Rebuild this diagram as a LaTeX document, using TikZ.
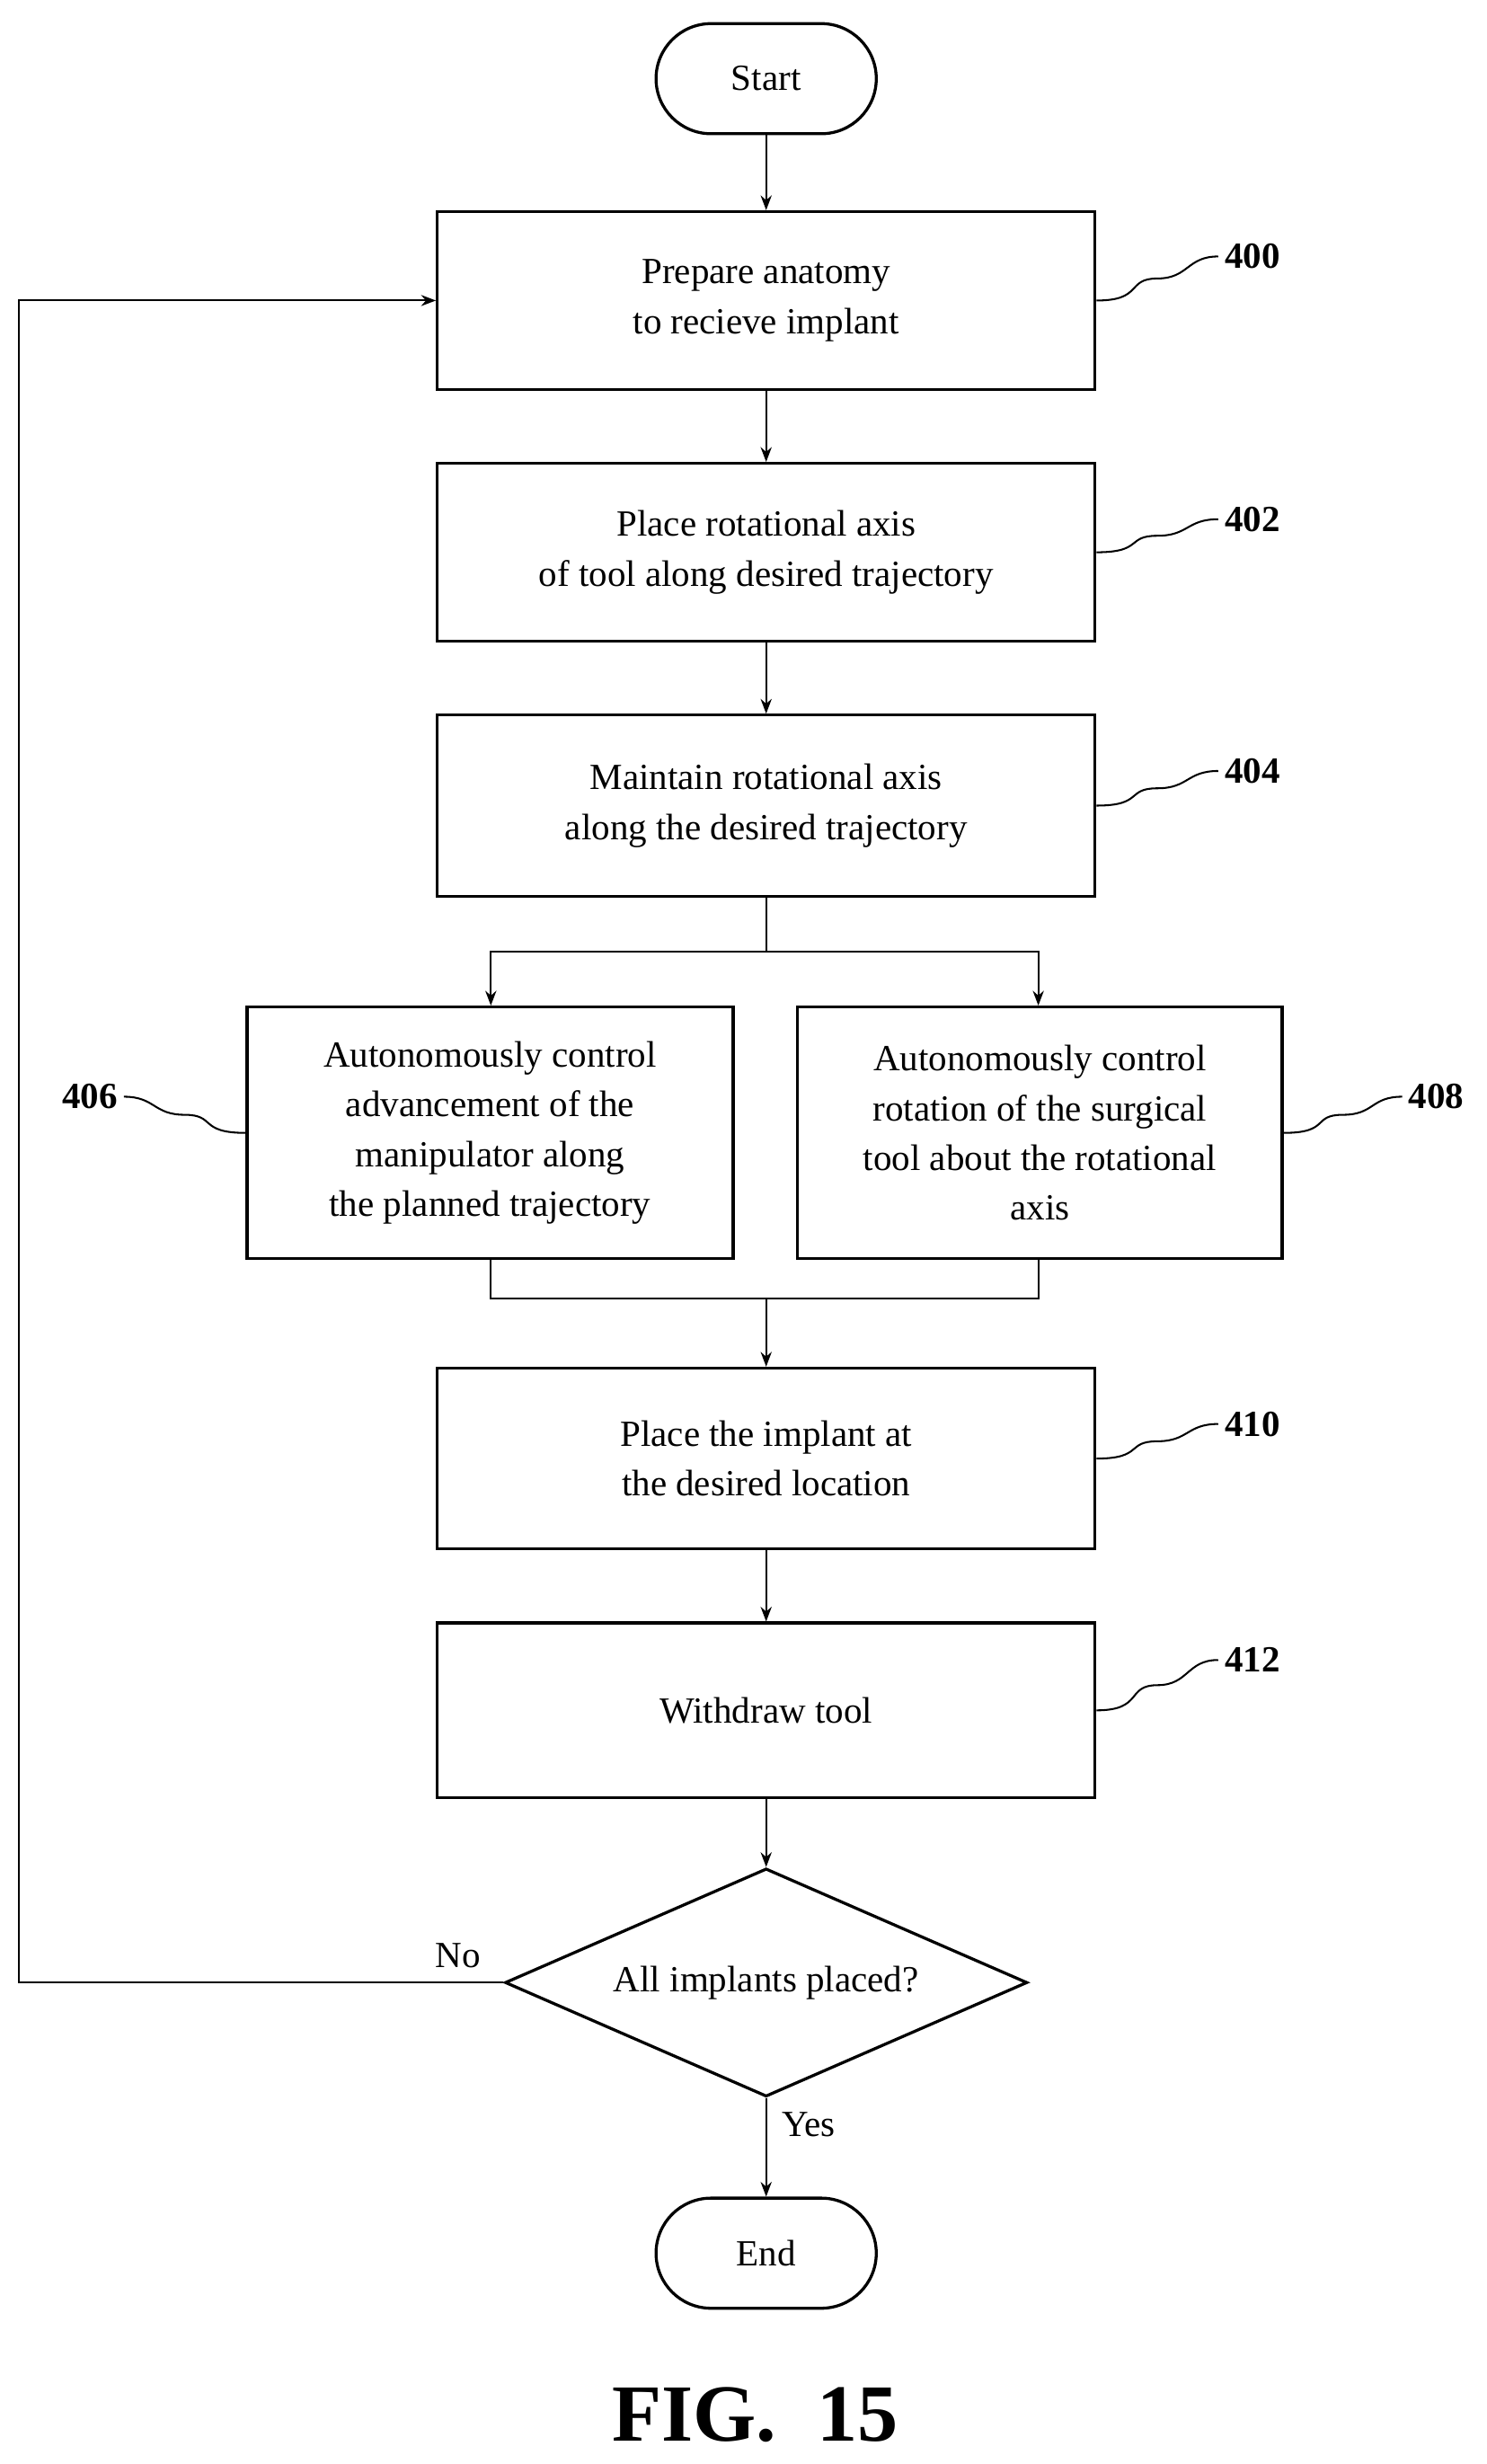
\documentclass[tikz,border=0pt]{standalone}
\usepackage{fontspec}
\setmainfont{Liberation Serif}
\usetikzlibrary{shapes.geometric,arrows.meta,calc}
\begin{document}
\begin{tikzpicture}[x=0.03cm,y=-0.03cm,
  every node/.style={font=\fontsize{20}{27}\selectfont},
  box/.style={draw,line width=1.6pt,rectangle,inner sep=0pt,align=center},
  term/.style={draw,line width=1.6pt,rounded corners=35*0.03cm,minimum width=140*0.03cm,minimum height=70*0.03cm},
  arr/.style={line width=1pt,-{Stealth[length=8pt,width=6pt]}},
  ln/.style={line width=1pt},
  lbl/.style={font=\fontsize{20}{24}\selectfont\bfseries},
  sq/.style={line width=1pt}]
\useasboundingbox (0,0) rectangle (945,1566);
\node[term] (start) at (487,50) {Start};
\node[box,minimum width=418*0.03cm,minimum height=113*0.03cm] (b400) at (487,191) {Prepare anatomy\\to recieve implant};
\node[box,minimum width=418*0.03cm,minimum height=113*0.03cm] (b402) at (487,351) {Place rotational axis\\of tool along desired trajectory};
\node[box,minimum width=418*0.03cm,minimum height=115*0.03cm] (b404) at (487,512) {Maintain rotational axis\\along the desired trajectory};
\node[box,minimum width=309*0.03cm,minimum height=160*0.03cm] (b406) at (311.5,720) {Autonomously control\\advancement of the\\manipulator along\\the planned trajectory};
\node[box,minimum width=308*0.03cm,minimum height=160*0.03cm] (b408) at (661,720) {Autonomously control\\rotation of the surgical\\tool about the rotational\\axis};
\node[box,minimum width=418*0.03cm,minimum height=115*0.03cm] (b410) at (487,927) {Place the implant at\\the desired location};
\node[box,minimum width=418*0.03cm,minimum height=111*0.03cm] (b412) at (487,1087) {Withdraw tool};
\node[draw,line width=1.6pt,diamond,aspect=2.29,minimum width=332*0.03cm,minimum height=145*0.03cm,inner sep=0pt] (dec) at (487,1260) {All implants placed?};
\node[term] (end) at (487,1432) {End};
\coordinate (split) at (487,605);
\coordinate (merge) at (487,825);
\coordinate (loopB) at (12,1260);
\coordinate (loopT) at (12,191);
\draw[arr] (start) -- (b400);
\draw[arr] (b400) -- (b402);
\draw[arr] (b402) -- (b404);
\draw[ln] (b404) -- (split);
\draw[arr] (split) -| (b406.north -| 312,0);
\draw[arr] (split) -| (b408.north -| 660,0);
\draw[ln] (b406.south -| 312,0) |- (merge);
\draw[ln] (b408.south -| 660,0) |- (merge);
\draw[arr] (merge) -- (b410);
\draw[arr] (b410) -- (b412);
\draw[arr] (b412) -- (dec);
\draw[arr] (dec) -- (end);
\draw[arr] (dec.west) -- (loopB) -- (loopT) -- (b400.west);
\node at (291,1243) {No};
\node at (514,1350) {Yes};
\node[lbl] (l400) at (796,163) {400};
\node[lbl] (l402) at (796,330) {402};
\node[lbl] (l404) at (796,490) {404};
\node[lbl] (l406) at (57,697) {406};
\node[lbl] (l408) at (913,697) {408};
\node[lbl] (l410) at (796,905) {410};
\node[lbl] (l412) at (796,1055) {412};
\foreach \b/\l in {b400/l400,b402/l402,b404/l404,b410/l410,b412/l412}{
  \draw[sq] (\b.east) .. controls +(30,0) and +(-20,0) .. ($(\b.east)!0.5!(\l.west)$) .. controls +(20,0) and +(-20,0) .. (\l.west);}
\draw[sq] (b406.west) .. controls +(-30,0) and +(20,0) .. ($(b406.west)!0.5!(l406.east)$) .. controls +(-20,0) and +(20,0) .. (l406.east);
\draw[sq] (b408.east) .. controls +(30,0) and +(-20,0) .. ($(b408.east)!0.5!(l408.west)$) .. controls +(20,0) and +(-20,0) .. (l408.west);
\node[font=\fontsize{44}{50}\selectfont\bfseries] (fig) at (480,1535) {FIG.~~15};
\end{tikzpicture}
\end{document}
